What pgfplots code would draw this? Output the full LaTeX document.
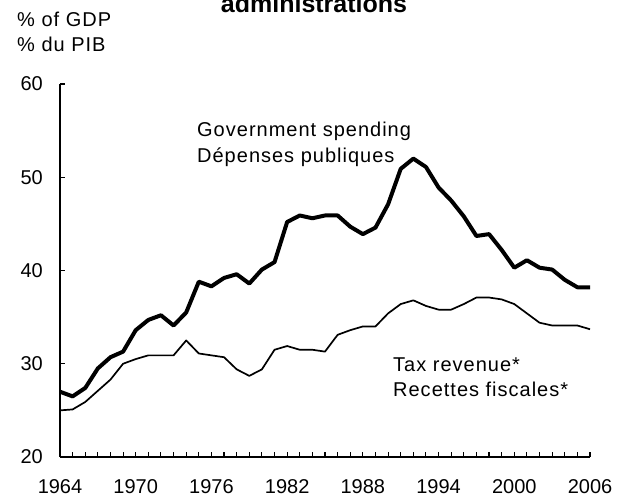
\documentclass[border=0pt]{standalone}
\usepackage{fontspec}
\setmainfont{Liberation Sans}
\newfontfamily\lsfont{Liberation Sans}[LetterSpace=5]
\usepackage{pgfplots}
\usepackage{pgfplotstable}
\pgfplotsset{compat=1.18}
\newcommand\f{\fontsize{20bp}{24bp}\selectfont}
\newcommand\g{\lsfont\fontsize{20bp}{24bp}\selectfont}
\pgfplotstableread{
year val
1964 27.0
1965 26.5
1966 27.4
1967 29.5
1968 30.7
1969 31.3
1970 33.6
1971 34.7
1972 35.2
1973 34.1
1974 35.5
1975 38.8
1976 38.3
1977 39.2
1978 39.6
1979 38.6
1980 40.1
1981 40.9
1982 45.2
1983 45.9
1984 45.6
1985 45.9
1986 45.9
1987 44.7
1988 43.9
1989 44.6
1990 47.1
1991 50.9
1992 52.0
1993 51.1
1994 48.9
1995 47.5
1996 45.8
1997 43.7
1998 43.9
1999 42.2
2000 40.3
2001 41.1
2002 40.3
2003 40.1
2004 39.0
2005 38.2
2006 38.2
}\spending
\pgfplotstableread{
year val
1964 25.0
1965 25.1
1966 25.9
1967 27.1
1968 28.3
1969 30.0
1970 30.5
1971 30.9
1972 30.9
1973 30.9
1974 32.5
1975 31.1
1976 30.9
1977 30.7
1978 29.4
1979 28.7
1980 29.4
1981 31.5
1982 31.9
1983 31.5
1984 31.5
1985 31.3
1986 33.1
1987 33.6
1988 34.0
1989 34.0
1990 35.4
1991 36.4
1992 36.8
1993 36.2
1994 35.8
1995 35.8
1996 36.4
1997 37.1
1998 37.1
1999 36.9
2000 36.4
2001 35.4
2002 34.4
2003 34.1
2004 34.1
2005 34.1
2006 33.7
}\tax
\begin{document}
\begin{tikzpicture}[x=1bp,y=1bp]
\path[use as bounding box] (0,0) rectangle (628,500);
\begin{axis}[
  at={(60bp,43bp)}, anchor=south west,
  scale only axis, width=530bp, height=373bp,
  xmin=1964, xmax=2006, ymin=20, ymax=60,
  axis lines=left, axis line style={-, line width=1.4bp},
  xtick={1964,1970,...,2006}, minor xtick={1964,...,2006},
  ytick={20,30,...,60},
  tick align=inside,
  major tick length=5bp, minor tick length=5bp,
  every tick/.style={black, line width=1.1bp},
  /pgf/number format/assume math mode=true,
  xticklabel style={font=\f, inner sep=0pt, anchor=base, yshift=-37bp, /pgf/number format/1000 sep={}},
  yticklabel style={font=\f, inner sep=0pt, anchor=east, xshift=-17bp},
  clip=false,
]
\addplot[black, line width=4bp, line join=round] table[x=year, y=val] {\spending};
\addplot[black, line width=1.7bp, line join=round] table[x=year, y=val] {\tax};
\end{axis}
\node[anchor=base, font={\fontsize{25bp}{30bp}\selectfont\bfseries}, inner sep=0pt] at (314,487) {administrations};
\node[anchor=base west, font=\g, inner sep=0pt] at (17,473) {\% of GDP};
\node[anchor=base west, font=\g, inner sep=0pt] at (17,448) {\% du PIB};
\node[anchor=base west, font=\g, inner sep=0pt] at (197,363) {Government spending};
\node[anchor=base west, font=\g, inner sep=0pt] at (197,337) {Dépenses publiques};
\node[anchor=base west, font=\g, inner sep=0pt] at (393,128) {Tax revenue*};
\node[anchor=base west, font=\g, inner sep=0pt] at (393,103) {Recettes fiscales*};
\end{tikzpicture}
\end{document}
